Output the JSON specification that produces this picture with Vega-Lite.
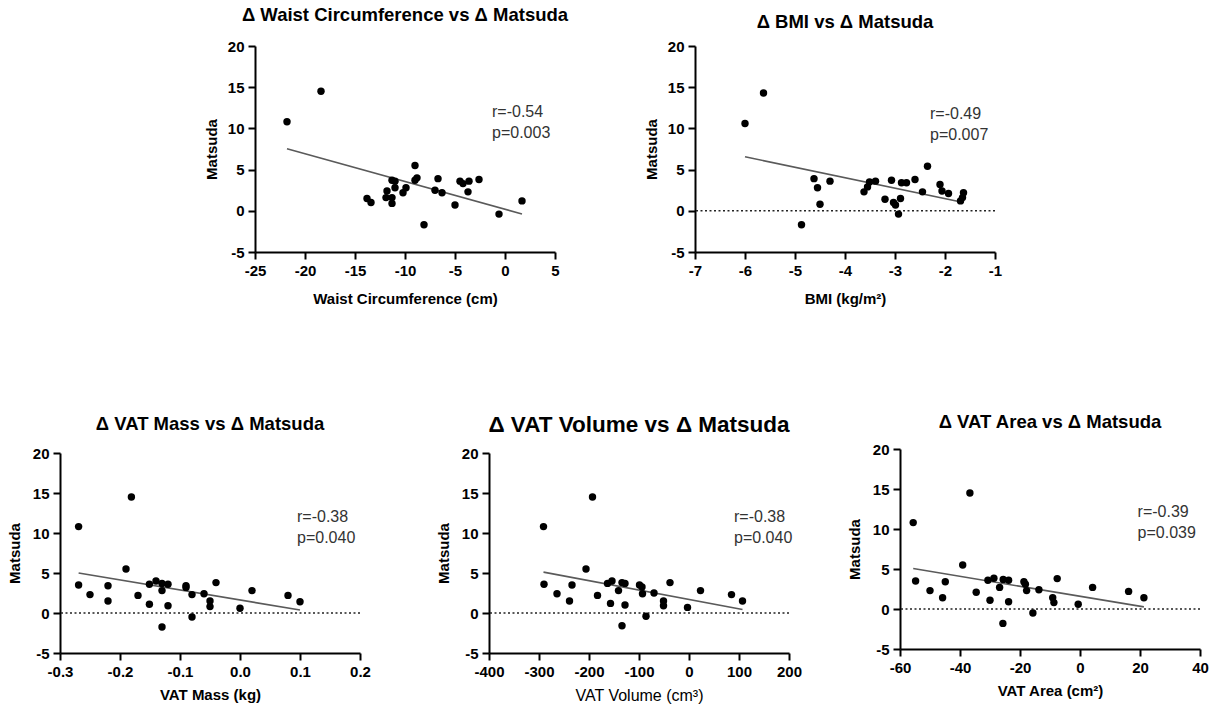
{
  "$schema": "https://vega.github.io/schema/vega-lite/v6.json",
  "background": "white",
  "padding": {"left": 7, "top": 5, "right": 5, "bottom": 5},
  "datasets": {
    "waist": [
      {"waist": -21.8, "matsuda": 10.8}, {"waist": -18.4, "matsuda": 14.5}, {"waist": -9.0, "matsuda": 5.5},
      {"waist": -13.8, "matsuda": 1.5}, {"waist": -13.4, "matsuda": 1.0}, {"waist": -11.8, "matsuda": 2.4},
      {"waist": -11.9, "matsuda": 1.6}, {"waist": -11.3, "matsuda": 1.6}, {"waist": -11.3, "matsuda": 0.9},
      {"waist": -11.3, "matsuda": 3.7}, {"waist": -11.0, "matsuda": 3.6}, {"waist": -11.0, "matsuda": 2.8},
      {"waist": -10.2, "matsuda": 2.2}, {"waist": -9.9, "matsuda": 2.8}, {"waist": -9.0, "matsuda": 3.7},
      {"waist": -8.8, "matsuda": 4.0}, {"waist": -8.1, "matsuda": -1.7}, {"waist": -7.0, "matsuda": 2.5},
      {"waist": -6.7, "matsuda": 3.9}, {"waist": -6.3, "matsuda": 2.2}, {"waist": -5.0, "matsuda": 0.7},
      {"waist": -4.5, "matsuda": 3.6}, {"waist": -4.2, "matsuda": 3.3}, {"waist": -3.7, "matsuda": 2.3},
      {"waist": -3.6, "matsuda": 3.6}, {"waist": -2.6, "matsuda": 3.8}, {"waist": -0.6, "matsuda": -0.4},
      {"waist": 1.7, "matsuda": 1.2}
    ],
    "bmi": [
      {"bmi": -6.0, "matsuda": 10.6}, {"bmi": -5.63, "matsuda": 14.3}, {"bmi": -2.35, "matsuda": 5.4},
      {"bmi": -4.62, "matsuda": 3.9}, {"bmi": -4.55, "matsuda": 2.8}, {"bmi": -4.5, "matsuda": 0.8},
      {"bmi": -4.3, "matsuda": 3.6}, {"bmi": -4.87, "matsuda": -1.7}, {"bmi": -3.62, "matsuda": 2.3},
      {"bmi": -3.55, "matsuda": 2.9}, {"bmi": -3.51, "matsuda": 3.5}, {"bmi": -3.39, "matsuda": 3.6},
      {"bmi": -3.2, "matsuda": 1.4}, {"bmi": -3.07, "matsuda": 3.7}, {"bmi": -3.03, "matsuda": 1.0},
      {"bmi": -2.99, "matsuda": 0.7}, {"bmi": -2.93, "matsuda": -0.4}, {"bmi": -2.89, "matsuda": 1.5},
      {"bmi": -2.87, "matsuda": 3.4}, {"bmi": -2.77, "matsuda": 3.4}, {"bmi": -2.6, "matsuda": 3.8},
      {"bmi": -2.45, "matsuda": 2.3}, {"bmi": -2.1, "matsuda": 3.2}, {"bmi": -2.06, "matsuda": 2.4},
      {"bmi": -1.93, "matsuda": 2.1}, {"bmi": -1.69, "matsuda": 1.2}, {"bmi": -1.63, "matsuda": 2.2},
      {"bmi": -1.65, "matsuda": 1.6}
    ],
    "vatMass": [
      {"vat_mass": -0.269, "matsuda": 10.8}, {"vat_mass": -0.181, "matsuda": 14.5}, {"vat_mass": -0.269, "matsuda": 3.5},
      {"vat_mass": -0.25, "matsuda": 2.3}, {"vat_mass": -0.22, "matsuda": 3.4}, {"vat_mass": -0.22, "matsuda": 1.5},
      {"vat_mass": -0.19, "matsuda": 5.5}, {"vat_mass": -0.17, "matsuda": 2.2}, {"vat_mass": -0.151, "matsuda": 3.6},
      {"vat_mass": -0.151, "matsuda": 1.1}, {"vat_mass": -0.14, "matsuda": 4.0}, {"vat_mass": -0.13, "matsuda": 3.7},
      {"vat_mass": -0.13, "matsuda": 2.8}, {"vat_mass": -0.12, "matsuda": 3.6}, {"vat_mass": -0.12, "matsuda": 0.9},
      {"vat_mass": -0.13, "matsuda": -1.75}, {"vat_mass": -0.09, "matsuda": 3.4}, {"vat_mass": -0.09, "matsuda": 3.2},
      {"vat_mass": -0.08, "matsuda": 2.3}, {"vat_mass": -0.08, "matsuda": -0.5}, {"vat_mass": -0.06, "matsuda": 2.4},
      {"vat_mass": -0.05, "matsuda": 1.5}, {"vat_mass": -0.05, "matsuda": 0.8}, {"vat_mass": -0.04, "matsuda": 3.8},
      {"vat_mass": 0.0, "matsuda": 0.6}, {"vat_mass": 0.02, "matsuda": 2.8}, {"vat_mass": 0.08, "matsuda": 2.2},
      {"vat_mass": 0.10, "matsuda": 1.4}
    ],
    "vatVolume": [
      {"vat_volume": -291, "matsuda": 10.8}, {"vat_volume": -193, "matsuda": 14.5}, {"vat_volume": -290, "matsuda": 3.6},
      {"vat_volume": -264, "matsuda": 2.4}, {"vat_volume": -234, "matsuda": 3.5}, {"vat_volume": -239, "matsuda": 1.5},
      {"vat_volume": -206, "matsuda": 5.5}, {"vat_volume": -183, "matsuda": 2.2}, {"vat_volume": -163, "matsuda": 3.7},
      {"vat_volume": -157, "matsuda": 1.2}, {"vat_volume": -154, "matsuda": 4.0}, {"vat_volume": -141, "matsuda": 2.8},
      {"vat_volume": -134, "matsuda": 3.8}, {"vat_volume": -128, "matsuda": 3.7}, {"vat_volume": -128, "matsuda": 1.0},
      {"vat_volume": -134, "matsuda": -1.6}, {"vat_volume": -99, "matsuda": 3.5}, {"vat_volume": -94, "matsuda": 3.25},
      {"vat_volume": -93, "matsuda": 2.4}, {"vat_volume": -86, "matsuda": -0.4}, {"vat_volume": -70, "matsuda": 2.5},
      {"vat_volume": -51, "matsuda": 1.5}, {"vat_volume": -51, "matsuda": 0.9}, {"vat_volume": -38, "matsuda": 3.8},
      {"vat_volume": -3, "matsuda": 0.7}, {"vat_volume": 23, "matsuda": 2.8}, {"vat_volume": 85, "matsuda": 2.3},
      {"vat_volume": 107, "matsuda": 1.5}
    ],
    "vatArea": [
      {"vat_area": -55.6, "matsuda": 10.8}, {"vat_area": -36.7, "matsuda": 14.5}, {"vat_area": -54.8, "matsuda": 3.5},
      {"vat_area": -50.0, "matsuda": 2.3}, {"vat_area": -44.9, "matsuda": 3.4}, {"vat_area": -45.8, "matsuda": 1.4},
      {"vat_area": -39.1, "matsuda": 5.5}, {"vat_area": -34.6, "matsuda": 2.1}, {"vat_area": -30.7, "matsuda": 3.6},
      {"vat_area": -30.0, "matsuda": 1.1}, {"vat_area": -28.7, "matsuda": 3.85}, {"vat_area": -26.8, "matsuda": 2.7},
      {"vat_area": -25.6, "matsuda": 3.7}, {"vat_area": -23.8, "matsuda": 3.6}, {"vat_area": -23.8, "matsuda": 0.9},
      {"vat_area": -25.7, "matsuda": -1.8}, {"vat_area": -18.7, "matsuda": 3.4}, {"vat_area": -18.2, "matsuda": 3.1},
      {"vat_area": -17.8, "matsuda": 2.3}, {"vat_area": -15.7, "matsuda": -0.5}, {"vat_area": -13.7, "matsuda": 2.4},
      {"vat_area": -9.1, "matsuda": 1.4}, {"vat_area": -8.7, "matsuda": 0.8}, {"vat_area": -7.6, "matsuda": 3.8},
      {"vat_area": -0.6, "matsuda": 0.6}, {"vat_area": 4.2, "matsuda": 2.7}, {"vat_area": 16.2, "matsuda": 2.2},
      {"vat_area": 21.3, "matsuda": 1.4}
    ]
  },
  "bounds": "flush",
  "spacing": 403,
  "vconcat": [
    {
      "bounds": "flush",
      "spacing": 140,
      "hconcat": [
        {
          "width": 55,
          "height": 206,
          "data": {"values": []},
          "mark": {"type": "point", "opacity": 0},
          "encoding": {}
        },
        {
          "width": 300,
          "height": 206,
          "title": {"text": "Δ Waist Circumference vs Δ Matsuda", "offset": 15},
          "data": {"name": "waist"},
          "layer": [
            {"transform": [{"regression": "matsuda", "on": "waist"}],
             "mark": {"type": "line", "color": "#5a5a5a", "strokeWidth": 1.6},
             "encoding": {
               "x": {"field": "waist", "type": "quantitative"},
               "y": {"field": "matsuda", "type": "quantitative"}
             }},
            {"mark": {"type": "circle", "size": 55, "color": "black", "opacity": 1},
             "encoding": {
               "x": {"field": "waist", "type": "quantitative",
                     "scale": {"domain": [-25, 5], "nice": false, "zero": false},
                     "axis": {"title": "Waist Circumference (cm)", "titlePadding": 13, "values": [-25, -20, -15, -10, -5, 0, 5], "tickCount": 20, "format": "d"}},
               "y": {"field": "matsuda", "type": "quantitative",
                     "scale": {"domain": [-5, 20], "nice": false},
                     "axis": {"title": "Matsuda", "values": [-5, 0, 5, 10, 15, 20], "tickCount": 20, "format": "d"}}
             }},
            {"data": {"values": [{"r": -0.54, "p": 0.003}]},
             "mark": {"type": "text", "text": ["r=-0.54", "p=0.003"], "align": "left", "baseline": "middle",
                      "fontSize": 16, "lineHeight": 21, "color": "#333333"},
             "encoding": {"x": {"datum": -1.3}, "y": {"datum": 12.0}}}
          ]
        },
        {
          "width": 300,
          "height": 206,
          "title": {"text": "Δ BMI vs Δ Matsuda", "offset": 8},
          "data": {"name": "bmi"},
          "layer": [
            {"data": {"values": [{"reference": 0}]},
             "mark": {"type": "rule", "color": "#222222", "strokeWidth": 1.6, "strokeDash": [2, 2.5]},
             "encoding": {"y": {"datum": 0}}},
            {"transform": [{"regression": "matsuda", "on": "bmi"}],
             "mark": {"type": "line", "color": "#5a5a5a", "strokeWidth": 1.6},
             "encoding": {
               "x": {"field": "bmi", "type": "quantitative"},
               "y": {"field": "matsuda", "type": "quantitative"}
             }},
            {"mark": {"type": "circle", "size": 55, "color": "black", "opacity": 1},
             "encoding": {
               "x": {"field": "bmi", "type": "quantitative",
                     "scale": {"domain": [-7, -1], "nice": false, "zero": false},
                     "axis": {"title": "BMI (kg/m²)", "titlePadding": 13, "values": [-7, -6, -5, -4, -3, -2, -1], "tickCount": 20, "format": "d"}},
               "y": {"field": "matsuda", "type": "quantitative",
                     "scale": {"domain": [-5, 20], "nice": false},
                     "axis": {"title": "Matsuda", "values": [-5, 0, 5, 10, 15, 20], "tickCount": 20, "format": "d"}}
             }},
            {"data": {"values": [{"r": -0.49, "p": 0.007}]},
             "mark": {"type": "text", "text": ["r=-0.49", "p=0.007"], "align": "left", "baseline": "middle",
                      "fontSize": 16, "lineHeight": 21, "color": "#333333"},
             "encoding": {"x": {"datum": -2.3}, "y": {"datum": 11.8}}}
          ]
        }
      ]
    },
    {
      "bounds": "flush",
      "spacing": 429,
      "hconcat": [
        {
          "bounds": "flush",
          "spacing": 3,
          "vconcat": [
            {
              "width": 300,
              "height": 1,
              "data": {"values": []},
              "mark": {"type": "point", "opacity": 0},
              "encoding": {}
            },
            {
              "width": 300,
              "height": 200,
              "title": {"text": "Δ VAT Mass vs Δ Matsuda", "offset": 13},
              "data": {"name": "vatMass"},
              "layer": [
                {"data": {"values": [{"reference": 0}]},
                 "mark": {"type": "rule", "color": "#222222", "strokeWidth": 1.6, "strokeDash": [2, 2.5]},
                 "encoding": {"y": {"datum": 0}}},
                {"transform": [{"regression": "matsuda", "on": "vat_mass"}],
                 "mark": {"type": "line", "color": "#5a5a5a", "strokeWidth": 1.6},
                 "encoding": {
                   "x": {"field": "vat_mass", "type": "quantitative"},
                   "y": {"field": "matsuda", "type": "quantitative"}
                 }},
                {"mark": {"type": "circle", "size": 55, "color": "black", "opacity": 1},
                 "encoding": {
                   "x": {"field": "vat_mass", "type": "quantitative",
                         "scale": {"domain": [-0.3, 0.2], "nice": false, "zero": false},
                         "axis": {"title": "VAT Mass (kg)", "values": [-0.3, -0.2, -0.1, 0, 0.1, 0.2], "tickCount": 20, "format": ".1f"}},
                   "y": {"field": "matsuda", "type": "quantitative",
                         "scale": {"domain": [-5, 20], "nice": false},
                         "axis": {"title": "Matsuda", "titlePadding": 10, "values": [-5, 0, 5, 10, 15, 20], "tickCount": 20, "format": "d"}}
                 }},
                {"data": {"values": [{"r": -0.38, "p": 0.040}]},
                 "mark": {"type": "text", "text": ["r=-0.38", "p=0.040"], "align": "left", "baseline": "middle",
                          "fontSize": 16, "lineHeight": 20.5, "color": "#333333"},
                 "encoding": {"x": {"datum": 0.095}, "y": {"datum": 11.96}}}
              ]
            }
          ]
        },
        {
          "bounds": "flush",
          "spacing": 411,
          "hconcat": [
            {
              "bounds": "flush",
              "spacing": 3,
              "vconcat": [
                {
                  "width": 300,
                  "height": 1,
                  "data": {"values": []},
                  "mark": {"type": "point", "opacity": 0},
                  "encoding": {}
                },
                {
                  "width": 300,
                  "height": 200,
                  "title": {"text": "Δ VAT Volume vs Δ Matsuda", "fontSize": 22.5, "offset": 10},
                  "data": {"name": "vatVolume"},
                  "layer": [
                    {"data": {"values": [{"reference": 0}]},
                     "mark": {"type": "rule", "color": "#222222", "strokeWidth": 1.6, "strokeDash": [2, 2.5]},
                     "encoding": {"y": {"datum": 0}}},
                    {"transform": [{"regression": "matsuda", "on": "vat_volume"}],
                     "mark": {"type": "line", "color": "#5a5a5a", "strokeWidth": 1.6},
                     "encoding": {
                       "x": {"field": "vat_volume", "type": "quantitative"},
                       "y": {"field": "matsuda", "type": "quantitative"}
                     }},
                    {"mark": {"type": "circle", "size": 55, "color": "black", "opacity": 1},
                     "encoding": {
                       "x": {"field": "vat_volume", "type": "quantitative",
                             "scale": {"domain": [-400, 200], "nice": false, "zero": false},
                             "axis": {"title": "VAT Volume (cm³)", "titleFontWeight": "normal", "titleFontSize": 16, "values": [-400, -300, -200, -100, 0, 100, 200], "tickCount": 20, "format": "d"}},
                       "y": {"field": "matsuda", "type": "quantitative",
                             "scale": {"domain": [-5, 20], "nice": false},
                             "axis": {"title": "Matsuda", "titlePadding": 10, "values": [-5, 0, 5, 10, 15, 20], "tickCount": 20, "format": "d"}}
                     }},
                    {"data": {"values": [{"r": -0.38, "p": 0.040}]},
                     "mark": {"type": "text", "text": ["r=-0.38", "p=0.040"], "align": "left", "baseline": "middle",
                              "fontSize": 16, "lineHeight": 20.5, "color": "#333333"},
                     "encoding": {"x": {"datum": 90}, "y": {"datum": 12.0}}}
                  ]
                }
              ]
            },
            {
              "width": 300,
              "height": 200,
              "title": {"text": "Δ VAT Area vs Δ Matsuda", "offset": 11},
              "data": {"name": "vatArea"},
              "layer": [
                {"data": {"values": [{"reference": 0}]},
                 "mark": {"type": "rule", "color": "#222222", "strokeWidth": 1.6, "strokeDash": [2, 2.5]},
                 "encoding": {"y": {"datum": 0}}},
                {"transform": [{"regression": "matsuda", "on": "vat_area"}],
                 "mark": {"type": "line", "color": "#5a5a5a", "strokeWidth": 1.6},
                 "encoding": {
                   "x": {"field": "vat_area", "type": "quantitative"},
                   "y": {"field": "matsuda", "type": "quantitative"}
                 }},
                {"mark": {"type": "circle", "size": 55, "color": "black", "opacity": 1},
                 "encoding": {
                   "x": {"field": "vat_area", "type": "quantitative",
                         "scale": {"domain": [-60, 40], "nice": false, "zero": false},
                         "axis": {"title": "VAT Area (cm²)", "values": [-60, -40, -20, 0, 20, 40], "tickCount": 20, "format": "d"}},
                   "y": {"field": "matsuda", "type": "quantitative",
                         "scale": {"domain": [-5, 20], "nice": false},
                         "axis": {"title": "Matsuda", "titlePadding": 10, "values": [-5, 0, 5, 10, 15, 20], "tickCount": 20, "format": "d"}}
                 }},
                {"data": {"values": [{"r": -0.39, "p": 0.039}]},
                 "mark": {"type": "text", "text": ["r=-0.39", "p=0.039"], "align": "left", "baseline": "middle",
                          "fontSize": 16, "lineHeight": 20.5, "color": "#333333"},
                 "encoding": {"x": {"datum": 19.2}, "y": {"datum": 12.1}}}
              ]
            }
          ]
        }
      ]
    }
  ],
  "config": {
    "font": "Liberation Sans",
    "locale": {"number": {"decimal": ".", "thousands": ",", "grouping": [3], "currency": ["$", ""], "minus": "-"}},
    "view": {"stroke": null},
    "title": {"font": "Liberation Sans", "fontSize": 18.5, "fontWeight": "bold", "color": "black",
              "anchor": "middle", "frame": "group", "baseline": "bottom"},
    "axis": {
      "grid": false,
      "domainColor": "black", "domainWidth": 2,
      "tickColor": "black", "tickWidth": 2, "tickSize": 7,
      "labelFont": "Liberation Sans", "labelFontSize": 15, "labelFontWeight": "bold", "labelColor": "black",
      "labelPadding": 4, "labelFlush": false, "labelOverlap": false,
      "titleFont": "Liberation Sans", "titleFontSize": 15, "titleFontWeight": "bold", "titleColor": "black",
      "titlePadding": 8
    }
  }
}
